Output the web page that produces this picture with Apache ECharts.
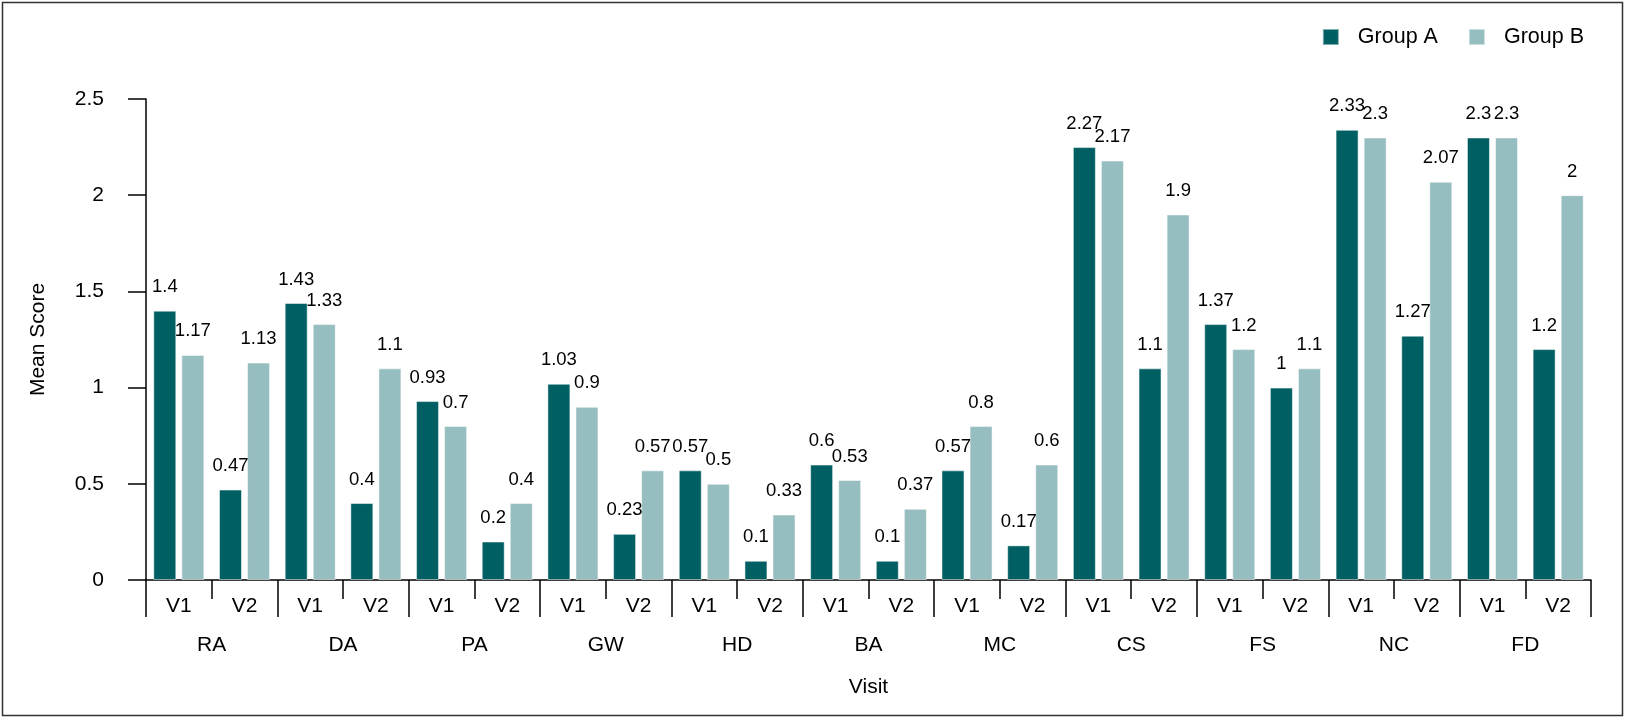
<!DOCTYPE html>
<html>
<head>
<meta charset="utf-8">
<script src="https://cdn.jsdelivr.net/npm/echarts@6/dist/echarts.min.js"></script>
<style>
html,body{margin:0;padding:0;background:#fff;}
#chart{width:1626px;height:719px;}
</style>
</head>
<body>
<div id="chart"></div>
<script>
const groups = ['RA','DA','PA','GW','HD','BA','MC','CS','FS','NC','FD'];
const visits = ['V1','V2'];
const groupA = [1.4,0.47,1.44,0.4,0.93,0.2,1.02,0.24,0.57,0.1,0.6,0.1,0.57,0.18,2.25,1.1,1.33,1.0,2.34,1.27,2.3,1.2];
const groupB = [1.17,1.13,1.33,1.1,0.8,0.4,0.9,0.57,0.5,0.34,0.52,0.37,0.8,0.6,2.18,1.9,1.2,1.1,2.3,2.07,2.3,2.0];
const labelsA = ['1.4','0.47','1.43','0.4','0.93','0.2','1.03','0.23','0.57','0.1','0.6','0.1','0.57','0.17','2.27','1.1','1.37','1','2.33','1.27','2.3','1.2'];
const labelsB = ['1.17','1.13','1.33','1.1','0.7','0.4','0.9','0.57','0.5','0.33','0.53','0.37','0.8','0.6','2.17','1.9','1.2','1.1','2.3','2.07','2.3','2'];
const yTicks = {min:0, max:2.5, interval:0.5};

const subCats = [];
groups.forEach(g => visits.forEach(v => subCats.push(v)));

const FONT = '"Liberation Sans", Arial, sans-serif';
const AX = 21;
const chart = echarts.init(document.getElementById('chart'));
chart.setOption({
  animation:false,
  textStyle:{fontFamily:FONT, color:'#000'},
  graphic:[{type:'rect', shape:{x:2.5,y:2.5,width:1620,height:713}, style:{fill:'none', stroke:'#333', lineWidth:1.5}, silent:true}],
  legend:{
    right:37, top:21, itemWidth:16, itemHeight:16, itemGap:30,
    icon:'rect',
    textStyle:{fontSize:21.5, color:'#000', fontFamily:FONT, padding:[0,0,0,14]},
    data:['Group A','Group B']
  },
  grid:{left:146, right:35, top:99, bottom:139},
  xAxis:[
    {type:'category', data:subCats, position:'bottom',
     axisLine:{show:true, lineStyle:{color:'#000', width:1.5}},
     axisTick:{show:true, length:19, interval:0, lineStyle:{color:'#000', width:1.5}},
     axisLabel:{interval:0, margin:16, fontSize:AX, color:'#000', fontFamily:FONT}},
    {type:'category', data:groups, position:'bottom',
     axisLine:{show:false},
     axisTick:{show:true, length:37, interval:0, lineStyle:{color:'#000', width:1.5}},
     axisLabel:{interval:0, margin:55, fontSize:AX, color:'#000', fontFamily:FONT},
     name:'Visit', nameLocation:'middle', nameGap:97,
     nameTextStyle:{fontSize:AX, color:'#000', fontFamily:FONT}}
  ],
  yAxis:{
    type:'value', min:yTicks.min, max:yTicks.max, interval:yTicks.interval,
    axisLine:{show:true, lineStyle:{color:'#000', width:1.5}},
    axisTick:{show:true, length:18, lineStyle:{color:'#000', width:1.5}},
    axisLabel:{margin:42, fontSize:AX, color:'#000', fontFamily:FONT},
    splitLine:{show:false},
    name:'Mean Score', nameLocation:'middle', nameGap:97, nameRotate:90,
    nameTextStyle:{fontSize:AX, color:'#000', fontFamily:FONT}
  },
  series:[
    {name:'Group A', type:'bar', xAxisIndex:0, data:groupA, barWidth:23, barGap:'22%',
     itemStyle:{color:'#005F62', borderColor:'rgba(255,255,255,0.5)', borderWidth:1},
     label:{show:true, position:'top', distance:14, fontSize:18.5, color:'#000', fontFamily:FONT,
            formatter:p => labelsA[p.dataIndex]}},
    {name:'Group B', type:'bar', xAxisIndex:0, data:groupB, barWidth:23, barGap:'22%',
     itemStyle:{color:'#96BDBF', borderColor:'rgba(255,255,255,0.5)', borderWidth:1},
     label:{show:true, position:'top', distance:14, fontSize:18.5, color:'#000', fontFamily:FONT,
            formatter:p => labelsB[p.dataIndex]}}
  ]
});
</script>
</body>
</html>
